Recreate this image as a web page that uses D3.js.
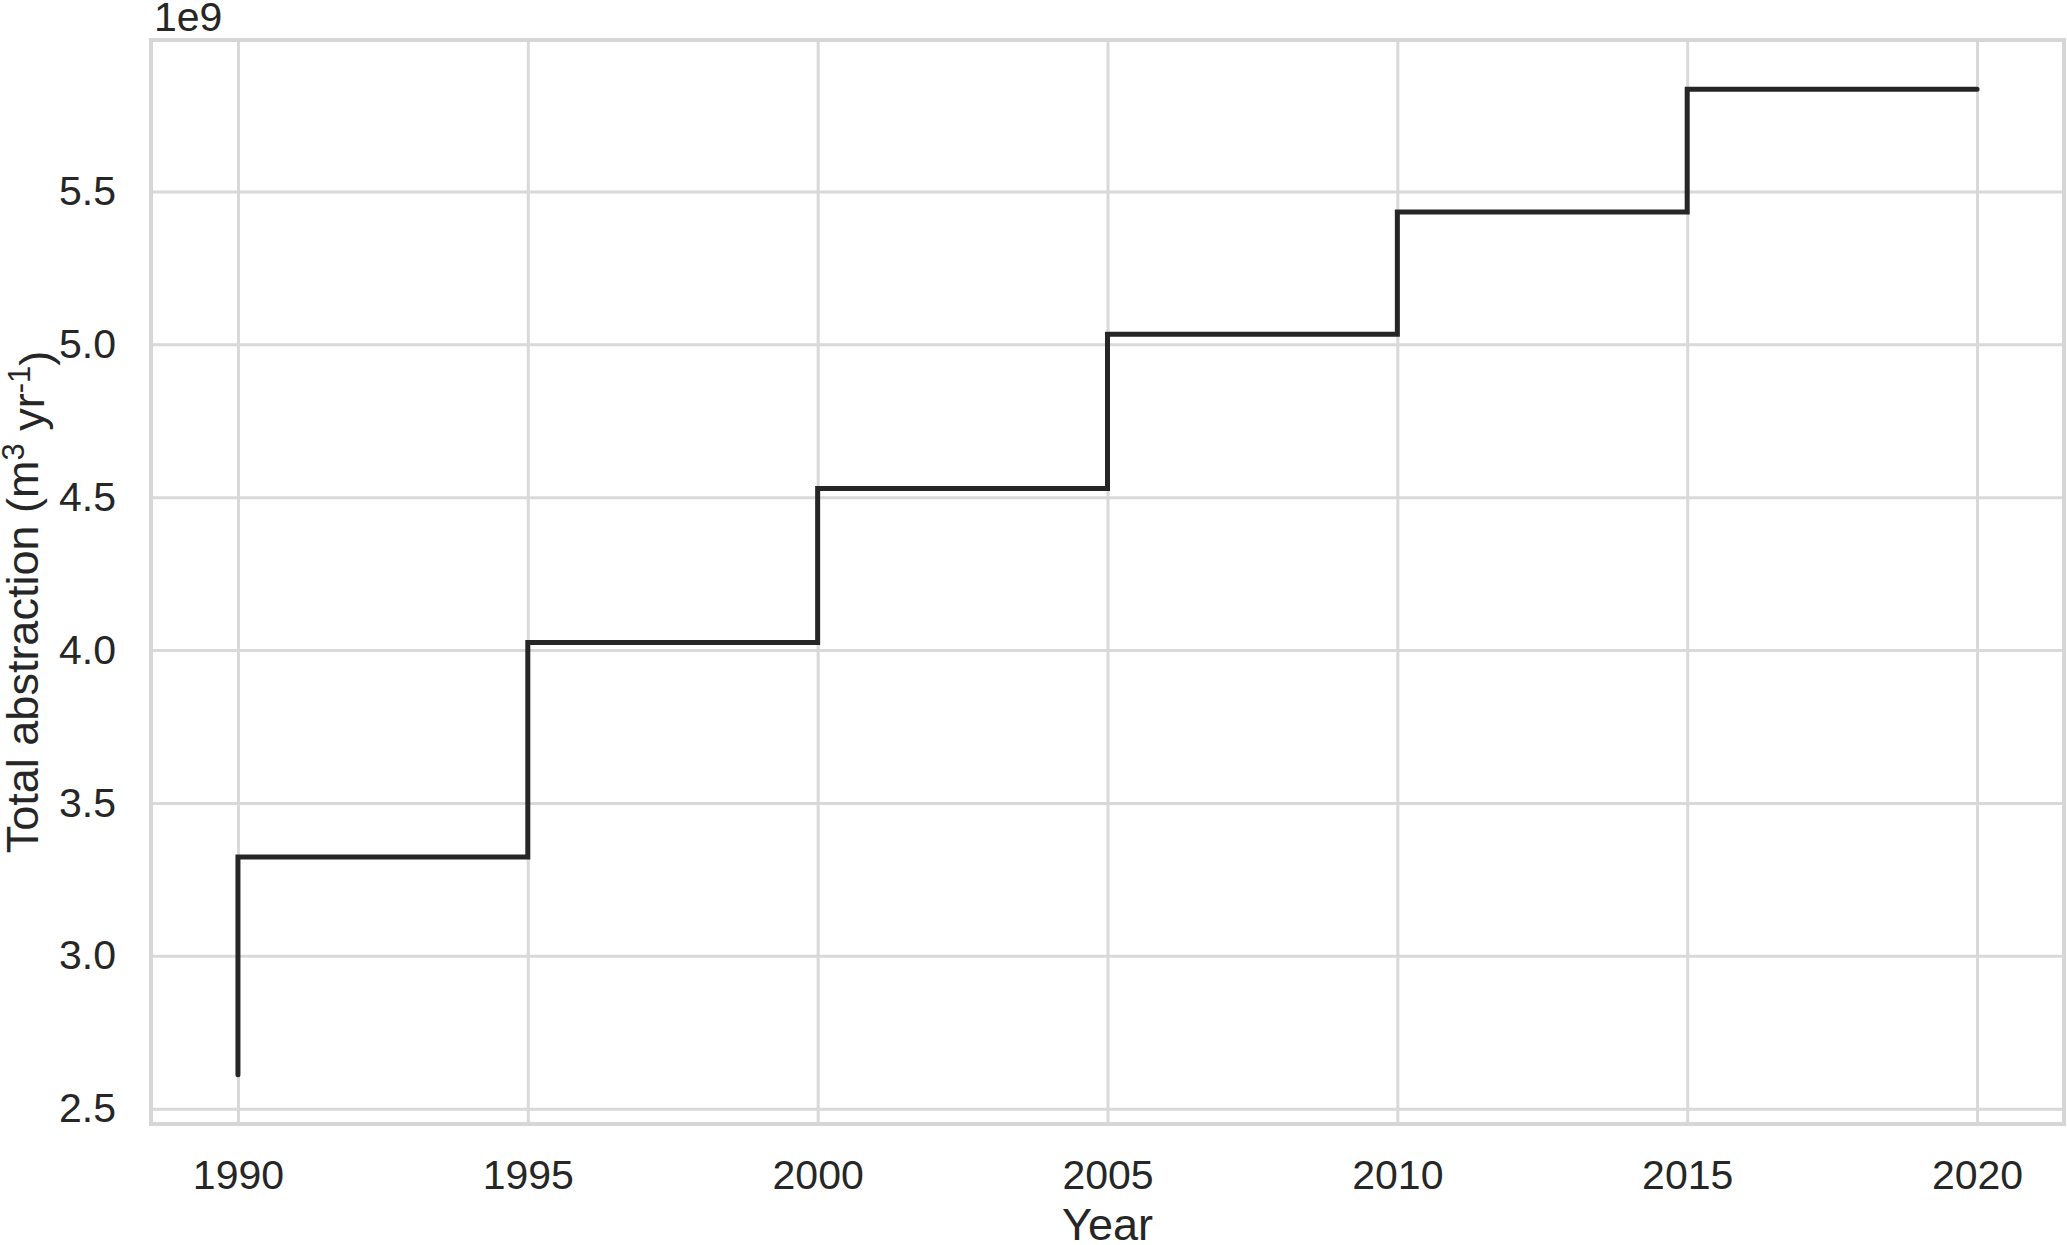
<!DOCTYPE html>
<html lang="en">
<head>
<meta charset="utf-8">
<title>Total abstraction</title>
<script src="https://d3js.org/d3.v7.min.js"></script>
<style>
  body { margin: 0; background: #fff; }
  svg { display: block; font-family: "Liberation Sans", Arial, sans-serif; }
  .grid line { stroke: #d9d9d9; stroke-width: 3px; }
  .grid path { display: none; }
  .axis path, .axis line { display: none; }
  .axis text { fill: #262626; font-size: 41px; }
</style>
</head>
<body>
<svg id="chart" width="2067" height="1245"></svg>
<script>
// data (values in m3/yr)
const years = [1990, 1995, 2000, 2005, 2010, 2015, 2020];
const abstraction = [2.611e9, 3.323e9, 4.025e9, 4.528e9, 5.033e9, 5.433e9, 5.834e9];
const xTicks = [1990, 1995, 2000, 2005, 2010, 2015, 2020];
const yTicks = [2.5e9, 3.0e9, 3.5e9, 4.0e9, 4.5e9, 5.0e9, 5.5e9];

var mLeft = 151, mTop = 40, mRight = 2064, mBottom = 1124;
var w = mRight - mLeft, h = mBottom - mTop;

var svg = d3.select("#chart");

// matplotlib style 5% margins
var xMin = d3.min(years), xMax = d3.max(years);
var yMin = d3.min(abstraction), yMax = d3.max(abstraction);
var xPad = (xMax - xMin) * 0.05, yPad = (yMax - yMin) * 0.05;

var x = d3.scaleLinear().domain([xMin - xPad, xMax + xPad]).range([0, w]);
var y = d3.scaleLinear().domain([yMin - yPad, yMax + yPad]).range([h, 0]);

var g = svg.append("g").attr("transform", "translate(" + mLeft + "," + mTop + ")");

// gridlines
g.append("g").attr("class", "grid")
  .call(d3.axisLeft(y).tickValues(yTicks).tickSize(-w).tickFormat(""));
g.append("g").attr("class", "grid")
  .attr("transform", "translate(0," + h + ")")
  .call(d3.axisBottom(x).tickValues(xTicks).tickSize(-h).tickFormat(""));

// frame
g.append("rect")
  .attr("x", 0).attr("y", 0).attr("width", w).attr("height", h)
  .attr("fill", "none").attr("stroke", "#d6d6d6").attr("stroke-width", 4);

// axes
g.append("g").attr("class", "axis")
  .attr("transform", "translate(0," + h + ")")
  .call(d3.axisBottom(x).tickValues(xTicks).tickSize(0).tickPadding(36).tickFormat(d3.format("d")));

g.append("g").attr("class", "axis")
  .call(d3.axisLeft(y).tickValues(yTicks).tickSize(0).tickPadding(35)
    .tickFormat(function(d) { return (d / 1e9).toFixed(1); }));

// step line
var line = d3.line()
  .x(function(d, i) { return x(years[i]); })
  .y(function(d) { return y(d); })
  .curve(d3.curveStepBefore);

g.append("path")
  .datum(abstraction)
  .attr("d", line)
  .attr("fill", "none")
  .attr("stroke", "#262626")
  .attr("stroke-width", 5)
  .attr("stroke-linecap", "round")
  .attr("stroke-linejoin", "miter");

// offset text
svg.append("text")
  .attr("x", 154).attr("y", 31)
  .attr("fill", "#262626").style("font-size", "41px")
  .text("1e9");

// axis titles
svg.append("text")
  .attr("x", mLeft + w / 2).attr("y", 1240)
  .attr("text-anchor", "middle")
  .attr("fill", "#262626").style("font-size", "45px")
  .text("Year");

var yl = svg.append("text")
  .attr("transform", "translate(38," + (mTop + h / 2 + 20) + ") rotate(-90)")
  .attr("text-anchor", "middle")
  .attr("fill", "#262626").style("font-size", "45px");
yl.append("tspan").text("Total abstraction (m");
yl.append("tspan").attr("dy", "-0.45em").style("font-size", "31px").text("3");
yl.append("tspan").attr("dy", "0.45em").text(" yr");
yl.append("tspan").attr("dy", "-0.45em").style("font-size", "31px").text("-1");
yl.append("tspan").attr("dy", "0.45em").text(")");
</script>
</body>
</html>
